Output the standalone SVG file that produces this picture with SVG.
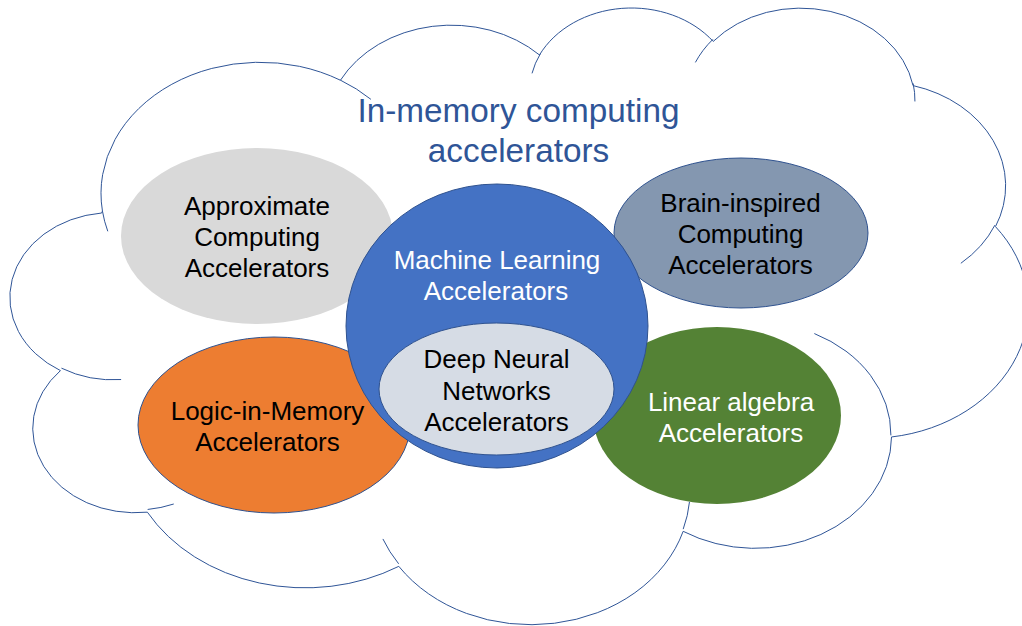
<svg xmlns="http://www.w3.org/2000/svg" width="1022" height="626" viewBox="0 0 1022 626">
  <style>
    .cloud { fill: #ffffff; stroke: #2F5597; stroke-width: 1; vector-effect: non-scaling-stroke; }
    .crease { fill: none; stroke: #2F5597; stroke-width: 1; vector-effect: non-scaling-stroke; }
    .edge { stroke: #2F528F; stroke-width: 1; }
    text { font-family: "Liberation Sans", Arial, sans-serif; font-size: 26px; text-anchor: middle; }
    .dark { fill: #000000; }
    .light { fill: #ffffff; }
    .title { fill: #2F5597; font-size: 33.3px; }
  </style>

  <!-- Outer cloud: preset cloud geometry in a 43200 x 43200 frame -->
  <g id="cloud" transform="translate(10.6 6) scale(0.02355 0.01427)">
    <path class="cloud" d="M 3900 14370
      A 6753 9190 0 0 1 14005.6 5202.6
      A 5333 7267 0 0 1 22457.7 3431.4
      A 4365 5945 0 0 1 29835.7 2481.8
      A 4857 6595 0 0 1 38321.0 5576.7
      A 5333 7273 0 0 1 41821.3 15460.4
      A 6775 9220 0 0 1 37406.2 30202.0
      A 5785 7867 0 0 1 28558.4 36812.6
      A 6752 9215 0 0 1 16484.2 39266.8
      A 7720 10543 0 0 1 5807.7 35471.6
      A 4360 5918 0 0 1 2116.4 25549.9
      A 4345 5945 0 0 1 3866.8 14506.5 Z"/>
    <path class="crease" d="M 4693 26177 A 4345 5945 0 0 1 2159.5 25379.8
      M 6928 34899 A 4360 5918 0 0 1 5819.3 35280.6
      M 16478 39090 A 6752 9215 0 0 1 15808.9 37346.8
      M 28827 34751 A 6752 9215 0 0 1 28560.4 36659.8
      M 34129 22954 A 5785 7867 0 0 1 37380.7 30089.8
      M 41798 15354 A 5333 7273 0 0 1 40350.1 18029.7
      M 38324 5426 A 4857 6595 0 0 1 38400.4 6689.7
      M 29078 3952 A 4857 6595 0 0 1 29819.8 2339.7
      M 22141 4720 A 4365 5945 0 0 1 22500.1 3330.3
      M 14000 5192 A 6753 9190 0 0 1 15300.1 6541.0
      M 4127 15789 A 6753 9190 0 0 1 3900.3 14371.0"/>
  </g>

  <g id="title">
    <text class="title" x="518.5" y="122">In-memory computing</text>
    <text class="title" x="518.5" y="161.5">accelerators</text>
  </g>

  <g id="approximate">
    <ellipse cx="257" cy="236" rx="136" ry="88" fill="#D9D9D9"/>
    <text class="dark" x="257" y="215">Approximate</text>
    <text class="dark" x="257" y="246">Computing</text>
    <text class="dark" x="257" y="277">Accelerators</text>
  </g>

  <g id="brain">
    <ellipse class="edge" cx="741" cy="233" rx="127" ry="75" fill="#8497B0"/>
    <text class="dark" x="740.5" y="212">Brain-inspired</text>
    <text class="dark" x="740.5" y="243">Computing</text>
    <text class="dark" x="740.5" y="274">Accelerators</text>
  </g>

  <g id="logic">
    <ellipse class="edge" cx="274" cy="425" rx="136" ry="88" fill="#ED7D31"/>
    <text class="dark" x="267.5" y="420">Logic-in-Memory</text>
    <text class="dark" x="267.5" y="451">Accelerators</text>
  </g>

  <g id="linear">
    <ellipse cx="717" cy="415.5" rx="124" ry="88.5" fill="#548235"/>
    <text class="light" x="731" y="410.5">Linear algebra</text>
    <text class="light" x="731" y="441.5">Accelerators</text>
  </g>

  <g id="ml">
    <ellipse class="edge" cx="497" cy="326" rx="151" ry="142" fill="#4472C4"/>
    <text class="light" x="497" y="268.5">Machine Learning</text>
    <text class="light" x="496" y="299.5">Accelerators</text>
  </g>

  <g id="dnn">
    <ellipse class="edge" cx="496.5" cy="389" rx="117.5" ry="66" fill="#D6DCE5"/>
    <text class="dark" x="496.5" y="368">Deep Neural</text>
    <text class="dark" x="496.5" y="399.5">Networks</text>
    <text class="dark" x="496.5" y="431">Accelerators</text>
  </g>

  <g id="connectors"/>
</svg>
